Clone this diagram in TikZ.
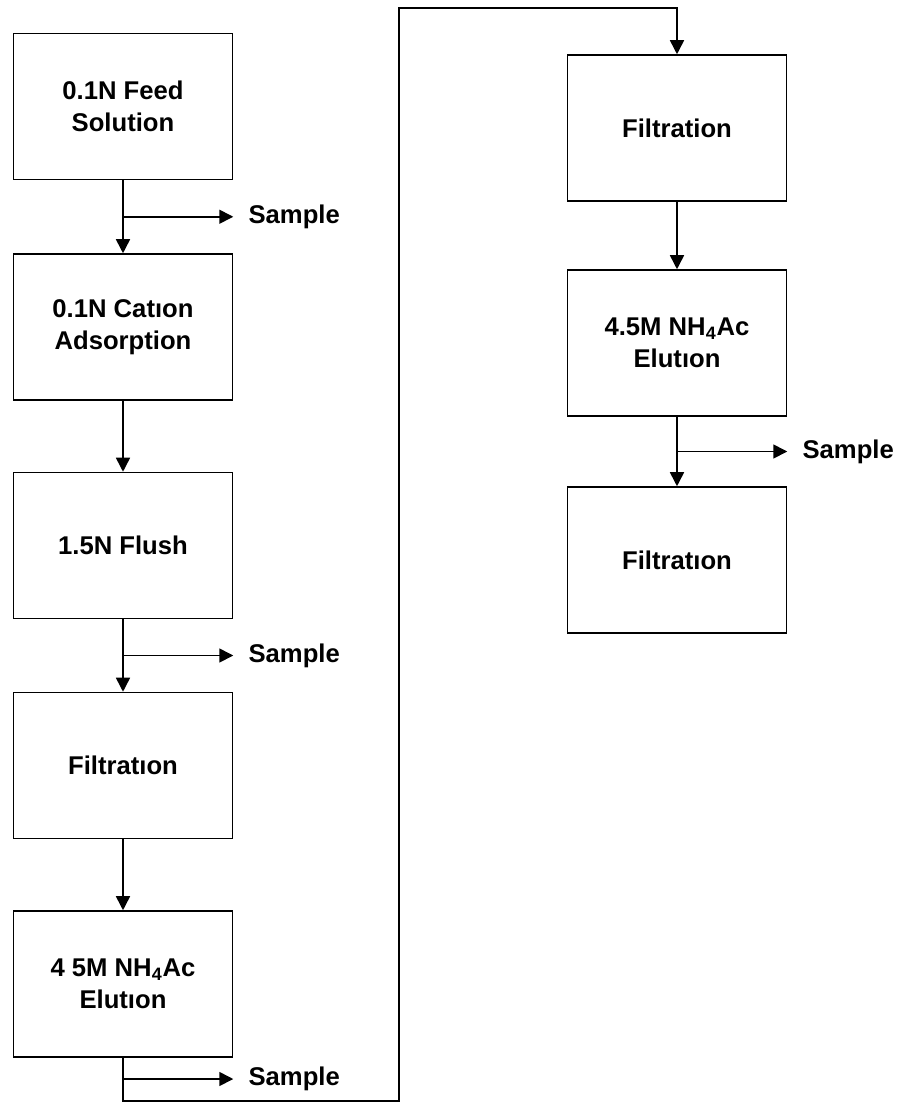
\documentclass[tikz,border=0pt]{standalone}
\usepackage{fontspec}
\setmainfont{Liberation Sans}
\usetikzlibrary{arrows.meta,calc}

\begin{document}
\begin{tikzpicture}[x=0.02cm,y=-0.02cm,>={Triangle[length=0.28cm,width=0.28cm]},
  stage/.style={draw,line width=0.9pt,minimum width=4.38cm,minimum height=2.92cm,align=center,font=\fontsize{14.6}{18.5}\selectfont\bfseries},
  sample/.style={anchor=west,inner xsep=0.3cm,font=\fontsize{14.6}{18.5}\selectfont\bfseries},
  flow/.style={line width=0.9pt}]
  \useasboundingbox (0,0) rectangle (903,1103);
  \node[stage] (feed) at (123,106.5) {0.1N Feed\\Solution};
  \node[stage] (cation) at (123,327) {0.1N Catıon\\Adsorption};
  \node[stage] (flush) at (123,545.5) {1.5N Flush};
  \node[stage] (filtA) at (123,765.5) {Filtratıon};
  \node[stage] (elutA) at (123,984) {4 5M NH\textsubscript{4}Ac\\Elutıon};
  \node[stage] (filtB) at (677,128) {Filtration};
  \node[stage] (elutB) at (677,343) {4.5M NH\textsubscript{4}Ac\\Elutıon};
  \node[stage] (filtC) at (677,560) {Filtratıon};
  \coordinate (b1) at ($(feed.south)!0.5!(cation.north)$);
  \coordinate (b2) at ($(flush.south)!0.5!(filtA.north)$);
  \coordinate (b3) at (123,1079);
  \coordinate (b4) at ($(elutB.south)!0.5!(filtC.north)$);
  \node[sample] (s1) at (b1 -| feed.east) {Sample};
  \node[sample] (s2) at (b2 -| flush.east) {Sample};
  \node[sample] (s3) at (b3 -| elutA.east) {Sample};
  \node[sample] (s4) at (b4 -| elutB.east) {Sample};
  \draw[flow,->] (feed.south) -- (cation.north);
  \draw[flow,->] (cation.south) -- (flush.north);
  \draw[flow,->] (flush.south) -- (filtA.north);
  \draw[flow,->] (filtA.south) -- (elutA.north);
  \draw[flow,->] (filtB.south) -- (elutB.north);
  \draw[flow,->] (elutB.south) -- (filtC.north);
  \draw[flow,->] (b1) -- (s1.west);
  \draw[flow,->] (b2) -- (s2.west);
  \draw[flow,->] (b3) -- (s3.west);
  \draw[flow,->] (b4) -- (s4.west);
  \coordinate (c1) at (123,1101);
  \coordinate (c2) at (399,1101);
  \coordinate (c3) at (399,8);
  \coordinate (c4) at (677,8);
  \draw[flow,->] (elutA.south) -- (c1) -- (c2) -- (c3) -- (c4) -- (filtB.north);
\end{tikzpicture}
\end{document}
